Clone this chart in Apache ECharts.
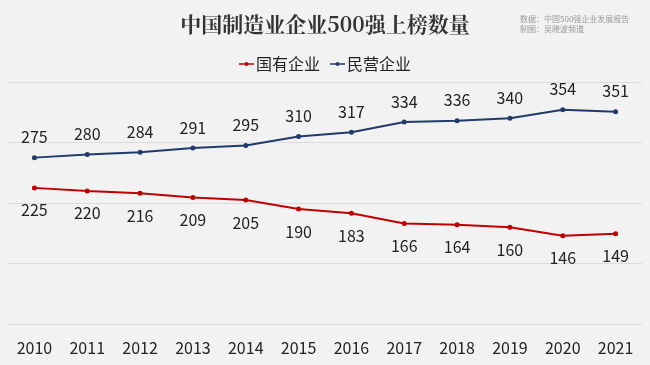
<!DOCTYPE html>
<html><head><meta charset="utf-8">
<script src="https://cdn.jsdelivr.net/npm/echarts@6/dist/echarts.min.js"></script>
<style>html,body{margin:0;padding:0;background:#f2f2f2;}#c{width:650px;height:365px;}</style>
</head><body><div id="c"></div>
<script>
var years = ['2010','2011','2012','2013','2014','2015','2016','2017','2018','2019','2020','2021'];
var stateOwned = [225,220,216,209,205,190,183,166,164,160,146,149];
var privateOwned = [275,280,284,291,295,310,317,334,336,340,354,351];
var seriesNames = ['国有企业','民营企业'];
var titleText = '中国制造业企业500强上榜数量';
var sourceText = '数据：中国500强企业发展报告\n制图：吴晓波频道';

var chart = echarts.init(document.getElementById('c'), null, {renderer:'canvas'});
var font = '"Noto Sans CJK SC", "Noto Sans", sans-serif';
chart.setOption({
  backgroundColor:'#f2f2f2',
  animation:false,
  title:[{
    text:titleText, left:'center', top:9,
    textStyle:{fontFamily:'"Noto Serif CJK SC","Noto Sans CJK SC",serif', fontSize:21, fontWeight:'bold', color:'#333'}
  },{
    text:sourceText, left:515, top:9,
    textStyle:{fontFamily:'"Noto Sans CJK SC",serif', fontSize:8, fontWeight:'normal', color:'#999', lineHeight:10}
  }],
  legend:{
    top:51, left:'center', itemWidth:15, itemHeight:6, itemGap:10,
    data:seriesNames,
    textStyle:{fontFamily:font, fontSize:16, color:'#222', padding:[0,0,0,-3]},
    icon:'path://M0,2.2 L5.8,2.2 L5.8,3.8 L0,3.8 Z M9.2,2.2 L15,2.2 L15,3.8 L9.2,3.8 Z M5.5,3 a2,2 0 1,1 4,0 a2,2 0 1,1 -4,0 Z'
  },
  grid:{left:8, right:8, top:82, bottom:41, containLabel:false},
  xAxis:{
    type:'category', data:years, boundaryGap:true,
    axisLine:{show:false}, axisTick:{show:false},
    axisLabel:{fontFamily:font, fontSize:16, color:'#222', margin:16}
  },
  yAxis:{
    type:'value', min:0, max:400, interval:100,
    axisLabel:{show:false}, axisLine:{show:false}, axisTick:{show:false},
    splitLine:{lineStyle:{color:'#dcdcdc', width:1}}
  },
  series:[{
    name:seriesNames[0], type:'line', data:stateOwned,
    color:'#c00000', symbol:'circle', symbolSize:5,
    lineStyle:{width:2, color:'#c00000'},
    label:{show:true, position:'bottom', distance:12, fontFamily:font, fontSize:16, color:'#222'}
  },{
    name:seriesNames[1], type:'line', data:privateOwned,
    color:'#1f3a6b', symbol:'circle', symbolSize:5,
    lineStyle:{width:2, color:'#1f3a6b'},
    label:{show:true, position:'top', distance:10, fontFamily:font, fontSize:16, color:'#222'}
  }]
});
</script></body></html>
